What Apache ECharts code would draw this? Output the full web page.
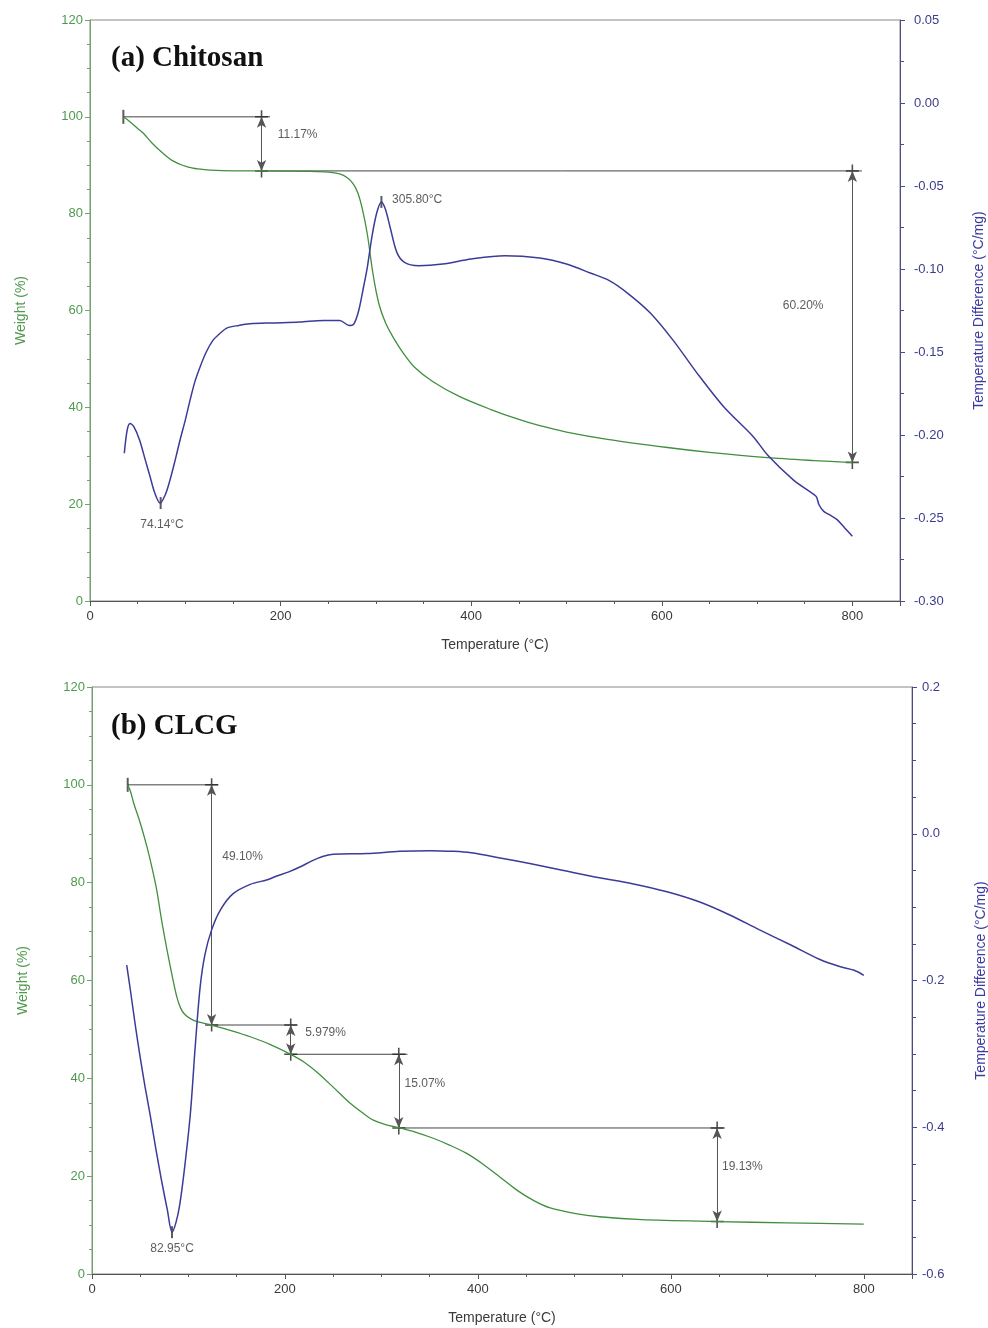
<!DOCTYPE html>
<html>
<head>
<meta charset="utf-8">
<title>TGA / DTA</title>
<style>
    html, body { margin: 0; padding: 0; background: #fff; }
    #container { width: 988px; height: 1328px; }
</style>
</head>
<body>
<div id="container"></div>
<script src="https://cdn.jsdelivr.net/npm/echarts@6/dist/echarts.min.js"></script>
<script>
// (a) Chitosan : [temperature, weight %]
var weightA = [
    [35, 100], [40, 99.3], [50, 97.6], [56, 96.6], [65, 94.6], [73, 93.1], [80, 91.9], [87, 90.9],
    [97, 90.0], [108, 89.4], [120, 89.1], [133, 88.95], [160, 88.85], [200, 88.8], [230, 88.75],
    [250, 88.6], [262, 88.2], [270, 87.4], [276, 86.2], [281, 84.3], [286, 80.8], [291, 75.8],
    [297, 67.5], [303, 61.5], [310, 57.5], [318, 54.5], [328, 51.4], [340, 48.4], [360, 45.3],
    [388, 42.2], [420, 39.6], [450, 37.5], [472, 36.2], [500, 34.9], [543, 33.4], [606, 31.7],
    [650, 30.7], [711, 29.6], [760, 29.0], [800, 28.6]
];
// (a) Chitosan : [temperature, temperature difference °C/mg]
var dtaA = [
    [36, -0.211], [39, -0.197], [42, -0.193], [46, -0.195], [52, -0.203], [58, -0.215], [63, -0.225],
    [68, -0.235], [73.5, -0.241], [79, -0.236], [84, -0.227], [89, -0.216], [94.5, -0.203],
    [100, -0.191], [105, -0.179], [110, -0.168], [115.5, -0.159], [122, -0.150], [129, -0.143],
    [136, -0.139], [144, -0.1355], [156, -0.134], [168, -0.133], [190, -0.1325], [220, -0.132],
    [245, -0.131], [262, -0.131], [272, -0.134], [277, -0.133], [282, -0.125], [287, -0.111],
    [291, -0.099], [296, -0.080], [301, -0.066], [305.8, -0.0596], [310, -0.064], [315, -0.075],
    [322, -0.090], [330, -0.096], [345, -0.098], [370, -0.097], [400, -0.094], [435, -0.092],
    [472, -0.0934], [500, -0.097], [525, -0.1024], [545, -0.107], [564, -0.1145], [588, -0.1265],
    [612, -0.143], [637, -0.1627], [665, -0.183], [696, -0.201], [711, -0.212], [738, -0.227],
    [755, -0.234], [762, -0.237], [765, -0.242], [770, -0.246], [776, -0.248], [784, -0.251],
    [792, -0.256], [800, -0.261]
];
// (b) CLCG : [temperature, weight %]
var weightB = [
    [37, 100], [40, 98.6], [43, 96.4], [50, 92.2], [57, 87.3], [62, 83.2], [67, 78.6], [72, 72.5],
    [78, 66], [84, 60.1], [88, 56.6], [92, 54.3], [96, 53.1], [102, 52.2], [109, 51.6], [124, 50.9],
    [145, 49.7], [164, 48.5], [185, 46.9], [206, 44.9], [220, 43.3], [233, 41.3], [250, 38.2],
    [267, 35], [280, 33.0], [291, 31.5], [305, 30.5], [319, 29.85], [335, 29.0], [353, 27.8],
    [370, 26.4], [388, 24.7], [405, 22.5], [423, 19.8], [440, 17.2], [458, 15.0], [475, 13.5],
    [500, 12.4], [526, 11.7], [570, 11.1], [648, 10.72], [720, 10.45], [800, 10.2]
];
// (b) CLCG : [temperature, temperature difference °C/mg]
var dtaB = [
    [36, -0.179], [40, -0.215], [45, -0.262], [50, -0.305], [55, -0.345], [60, -0.381], [66, -0.428],
    [72, -0.472], [78, -0.512], [83, -0.543], [87, -0.530], [91, -0.505], [96, -0.455], [102, -0.381],
    [107, -0.290], [112, -0.210], [117, -0.165], [124, -0.131], [133, -0.104], [146, -0.082],
    [164, -0.069], [181, -0.063], [191, -0.058], [204, -0.052], [216, -0.045], [228, -0.037],
    [239, -0.031], [250, -0.028], [285, -0.027], [319, -0.024], [350, -0.023], [375, -0.024],
    [393, -0.026], [423, -0.033], [455, -0.041], [485, -0.049], [526, -0.060], [560, -0.068],
    [596, -0.079], [630, -0.093], [660, -0.110], [692, -0.131], [725, -0.152], [754, -0.171],
    [775, -0.181], [790, -0.186], [800, -0.193]
];

// measuring lines of the weight curves: [x0, x1, y]
var stepLinesA = [[35, 189, 100], [180, 810, 88.83]];
var stepLinesB = [[37, 131, 100], [124, 213, 50.9], [206, 327, 44.92], [318, 656, 29.85]];
// double arrows: [x, yTop, yBottom]
var arrowsA = [[180, 100, 88.83], [800, 88.83, 28.63]];
var arrowsB = [[124, 100, 50.9], [206, 50.9, 44.92], [318, 44.92, 29.85], [648, 29.85, 10.72]];
// cross marks on weight curves
var crossA = [[180, 100], [180, 88.83], [800, 88.83], [800, 28.63]];
var crossB = [[124, 100], [124, 50.9], [206, 50.9], [206, 44.92], [318, 44.92], [318, 29.85], [648, 29.85], [648, 10.72]];
var startA = [[35, 100]];
var startB = [[37, 100]];
// percentage texts: [x, y, text]
var stepTextA = [[197, 96.3, '11.17%'], [727, 61, '60.20%']];
var stepTextB = [[135, 85.4, '49.10%'], [221, 49.3, '5.979%'], [324, 39, '15.07%'], [653, 21.9, '19.13%']];
// DTA peak marks: [x, y, label, labelX, labelY, align]
var peaksA = [[305.8, -0.0596, '305.80°C', 317, -0.0584, 'left'], [74.14, -0.241, '74.14°C', 75.6, -0.254, 'center']];
var peaksB = [[82.95, -0.543, '82.95°C', 83, -0.565, 'center']];

var panelTitles = ['(a) Chitosan', '(b) CLCG'];
var xName = 'Temperature (°C)';
var yNameLeft = 'Weight (%)';
var yNameRight = 'Temperature Difference (°C/mg)';

var GREEN = '#3f8f3f';
var GREEN_AXIS = '#6aa86a';
var NAVY = '#3b3b99';
var NAVY_AXIS = '#4a4a8c';
var INK = '#3a3a3a';
var FONT = 'Liberation Sans';

var dom = document.getElementById('container');
var myChart = echarts.init(dom, null, { renderer: 'canvas' });

var crossSymbol = 'path://M4.4,0h1.2v10h-1.2z M0,4.4h10v1.2h-10z';
var barSymbol = 'path://M0,0h1.4v10h-1.4z';

function xAxisOf(grid) {
    return {
        type: 'value', gridIndex: grid, min: 0, max: 850, interval: 200,
        name: xName, nameLocation: 'middle', nameGap: 37,
        nameTextStyle: { color: INK, fontSize: 14, fontFamily: FONT },
        axisLine: { onZero: false, lineStyle: { color: '#555', width: 1 } },
        axisTick: { length: 5, lineStyle: { color: '#555' } },
        minorTick: { show: true, splitNumber: 4, length: 3, lineStyle: { color: '#555' } },
        axisLabel: { color: INK, fontSize: 13, fontFamily: FONT, showMaxLabel: false, margin: 9 },
        splitLine: { show: false }
    };
}

function leftAxisOf(grid) {
    return {
        type: 'value', gridIndex: grid, min: 0, max: 120, interval: 20, position: 'left',
        name: yNameLeft, nameLocation: 'middle', nameGap: 62,
        nameTextStyle: { color: '#4f9a4f', fontSize: 14, fontFamily: FONT },
        axisLine: { show: true, onZero: false, lineStyle: { color: GREEN_AXIS } },
        axisTick: { length: 5, lineStyle: { color: GREEN_AXIS } },
        minorTick: { show: true, splitNumber: 4, length: 3, lineStyle: { color: GREEN_AXIS } },
        axisLabel: { color: '#4f9a4f', fontSize: 13, fontFamily: FONT, margin: 7 },
        splitLine: { show: false }
    };
}

function rightAxisOf(grid, min, max, step, minor, digits, gap, margin) {
    return {
        type: 'value', gridIndex: grid, min: min, max: max, interval: step, position: 'right',
        name: yNameRight, nameLocation: 'middle', nameGap: gap,
        nameTextStyle: { color: '#3a3aa0', fontSize: 14, fontFamily: FONT },
        axisLine: { show: true, onZero: false, lineStyle: { color: NAVY_AXIS } },
        axisTick: { length: 5, lineStyle: { color: NAVY_AXIS } },
        minorTick: { show: true, splitNumber: minor, length: 4, lineStyle: { color: NAVY_AXIS } },
        axisLabel: {
            color: '#3c3c8c', fontSize: 13, fontFamily: FONT, margin: margin,
            formatter: function (v) { return v.toFixed(digits); }
        },
        splitLine: { show: false }
    };
}

function annotationSeries(xi, yi, lines, arrows, cross, start, texts) {
    var out = [];
    lines.forEach(function (l, i) {
        var s = {
            type: 'line', xAxisIndex: xi, yAxisIndex: yi, silent: true, symbol: 'none',
            data: [[l[0], l[2]], [l[1], l[2]]],
            lineStyle: { color: '#444', width: 1 }, z: 3
        };
        if (i === 0) {
            s.markLine = {
                silent: true, symbol: ['arrow', 'arrow'], symbolSize: [7, 11],
                label: { show: false },
                lineStyle: { color: '#555', width: 1, type: 'solid' },
                data: arrows.map(function (a) {
                    return [{ coord: [a[0], a[1]] }, { coord: [a[0], a[2]] }];
                })
            };
        }
        out.push(s);
    });
    out.push({
        type: 'scatter', xAxisIndex: xi, yAxisIndex: yi, silent: true,
        symbol: crossSymbol, symbolSize: 13, data: cross,
        itemStyle: { color: '#222' }, z: 4
    });
    out.push({
        type: 'scatter', xAxisIndex: xi, yAxisIndex: yi, silent: true,
        symbol: barSymbol, symbolSize: [2, 14], data: start,
        itemStyle: { color: '#333' }, z: 4
    });
    out.push({
        type: 'scatter', xAxisIndex: xi, yAxisIndex: yi, silent: true, symbolSize: 0,
        data: texts.map(function (t) { return { value: [t[0], t[1]], name: t[2] }; }),
        label: {
            show: true, position: 'right', distance: 0, formatter: '{b}',
            color: '#333', fontSize: 12, fontFamily: FONT
        }
    });
    return out;
}

function peakSeries(xi, yi, peaks) {
    return [{
        type: 'scatter', xAxisIndex: xi, yAxisIndex: yi, silent: true,
        symbol: barSymbol, symbolSize: [2, 12], data: peaks.map(function (p) { return [p[0], p[1]]; }),
        itemStyle: { color: '#333' }, z: 4
    }, {
        type: 'scatter', xAxisIndex: xi, yAxisIndex: yi, silent: true, symbolSize: 0,
        data: peaks.map(function (p) {
            return {
                value: [p[3], p[4]], name: p[2],
                label: { position: p[5] === 'left' ? 'right' : 'inside', distance: 0 }
            };
        }),
        label: { show: true, formatter: '{b}', color: '#333', fontSize: 12, fontFamily: FONT }
    }];
}

function curve(name, xi, yi, data, color, width) {
    return {
        name: name, type: 'line', xAxisIndex: xi, yAxisIndex: yi, data: data,
        smooth: 0.3, symbol: 'none',
        lineStyle: { color: color, width: width }, z: 5
    };
}

var option = {
    backgroundColor: '#fff',
    animation: false,
    title: [
        { text: panelTitles[0], left: 106, top: 39,
          textStyle: { fontFamily: 'Liberation Serif', fontWeight: 'bold', fontSize: 29, color: '#111' } },
        { text: panelTitles[1], left: 106, top: 707,
          textStyle: { fontFamily: 'Liberation Serif', fontWeight: 'bold', fontSize: 29, color: '#111' } }
    ],
    grid: [
        { left: 90, right: 88, top: 20, bottom: 727, outerBoundsMode: 'none',
          show: true, borderColor: '#888', borderWidth: 1 },
        { left: 92, right: 76, top: 687, bottom: 54, outerBoundsMode: 'none',
          show: true, borderColor: '#888', borderWidth: 1 }
    ],
    xAxis: [xAxisOf(0), xAxisOf(1)],
    yAxis: [
        leftAxisOf(0),
        rightAxisOf(0, -0.30, 0.05, 0.05, 2, 2, 72, 14),
        leftAxisOf(1),
        rightAxisOf(1, -0.6, 0.2, 0.2, 4, 1, 62, 10)
    ],
    series: [].concat(
        annotationSeries(0, 0, stepLinesA, arrowsA, crossA, startA, stepTextA),
        annotationSeries(1, 2, stepLinesB, arrowsB, crossB, startB, stepTextB),
        peakSeries(0, 1, peaksA),
        peakSeries(1, 3, peaksB),
        [
            curve('Weight (a)', 0, 0, weightA, GREEN, 1.3),
            curve('DTA (a)', 0, 1, dtaA, NAVY, 1.5),
            curve('Weight (b)', 1, 2, weightB, GREEN, 1.3),
            curve('DTA (b)', 1, 3, dtaB, NAVY, 1.5)
        ]
    )
};

if (option && typeof option === 'object') {
    myChart.setOption(option);
}
</script>
</body>
</html>
